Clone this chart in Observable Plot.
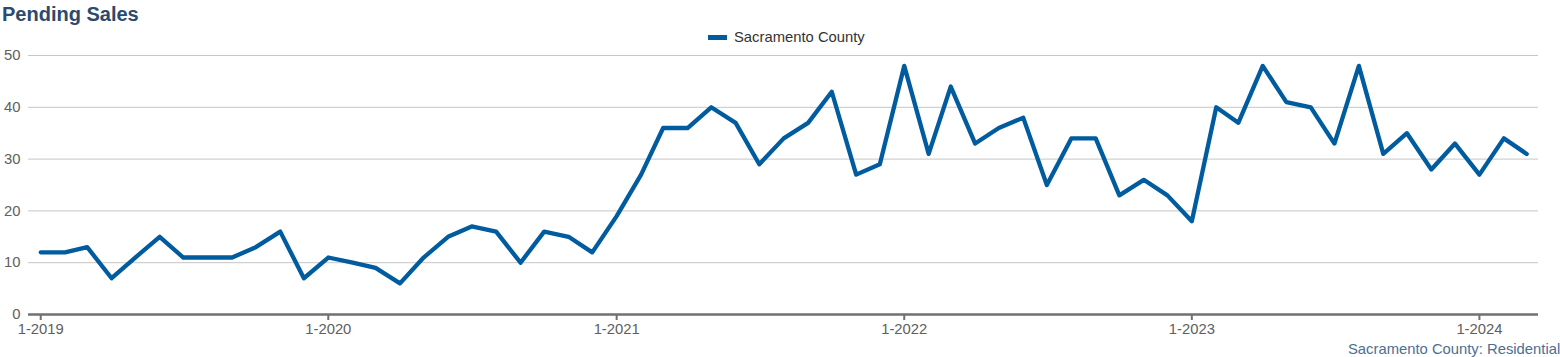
<!DOCTYPE html>
<html>
<head>
<meta charset="utf-8">
<script src="https://cdn.jsdelivr.net/npm/d3@7"></script>
<script src="https://cdn.jsdelivr.net/npm/@observablehq/plot@0.6"></script>
<style>
  html, body { margin: 0; padding: 0; background: #fff; overflow: hidden; width: 1560px; height: 357px; }
  #wrap { position: relative; width: 1560px; height: 357px; font-family: "Liberation Sans", Arial, sans-serif; }
  #title { position: absolute; left: 2px; top: 3px; font-size: 20px; font-weight: bold; color: #2b4a6d; white-space: nowrap; }
  #legend { position: absolute; left: 708px; top: 29px; font-size: 14.8px; color: #333; white-space: nowrap; display: flex; align-items: center; }
  #legend .sw { display: inline-block; width: 19px; height: 5px; background: #005c9e; margin-right: 7px; }
  #caption { position: absolute; left: 1348px; top: 341px; font-size: 14.8px; color: #4c6f93; white-space: nowrap; }
  #chart { position: absolute; left: 0; top: 0; }
</style>
</head>
<body>
<div id="wrap">
  <div id="chart"></div>
  <div id="title">Pending Sales</div>
  <div id="legend"><span class="sw"></span>Sacramento County</div>
  <div id="caption">Sacramento County: Residential</div>
</div>
<script>
const seriesName = "Sacramento County";
const startYear = 2019;
const pendingSales = [
  // 2019
  12, 12, 13, 7, 11, 15, 11, 11, 11, 13, 16, 7,
  // 2020
  11, 10, 9, 6, 11, 15, 17, 16, 10, 16, 15, 12,
  // 2021
  19, 27, 36, 36, 40, 37, 29, 34, 37, 43, 27, 29,
  // 2022
  48, 31, 44, 33, 36, 38, 25, 34, 34, 23, 26, 23,
  // 2023
  18, 40, 37, 48, 41, 40, 33, 48, 31, 35, 28, 33,
  // 2024
  27, 34, 31
];
const tickYears = [2019, 2020, 2021, 2022, 2023, 2024];
const yTicks = [0, 10, 20, 30, 40, 50];

const data = pendingSales.map((v, i) => ({
  date: new Date(Date.UTC(startYear + Math.floor(i / 12), i % 12, 1)),
  value: v
}));
const tickDates = tickYears.map(y => new Date(Date.UTC(y, 0, 1)));

const chart = Plot.plot({
  width: 1560,
  height: 357,
  marginTop: 55,
  marginBottom: 43,
  marginLeft: 28,
  marginRight: 22,
  style: { fontFamily: "'Liberation Sans', Arial, sans-serif", fontSize: "14.8px", background: "transparent" },
  x: { type: "utc", domain: [new Date(Date.UTC(2018, 11, 16, 12)), new Date(Date.UTC(2024, 2, 16))] },
  y: { domain: [0, 50] },
  marks: [
    Plot.gridY(yTicks, { stroke: "#c6c6c6", strokeOpacity: 1, strokeWidth: 1 }),
    Plot.axisY(yTicks, { tickSize: 0, tickPadding: 8, textAnchor: "end", fill: "#606060", label: null, tickFormat: d => String(d) }),
    Plot.ruleY([0], { stroke: "#707070", strokeWidth: 2.5 }),
    Plot.axisX(tickDates, { tickSize: 6, tickPadding: 3, stroke: "#707070", strokeWidth: 2, fill: "#606060", label: null, tickFormat: d => "1-" + d.getUTCFullYear() }),
    Plot.line(data, { x: "date", y: "value", stroke: "#005c9e", strokeWidth: 4.3, strokeLinejoin: "round", strokeLinecap: "round" })
  ]
});
document.getElementById("chart").appendChild(chart);
</script>
</body>
</html>
